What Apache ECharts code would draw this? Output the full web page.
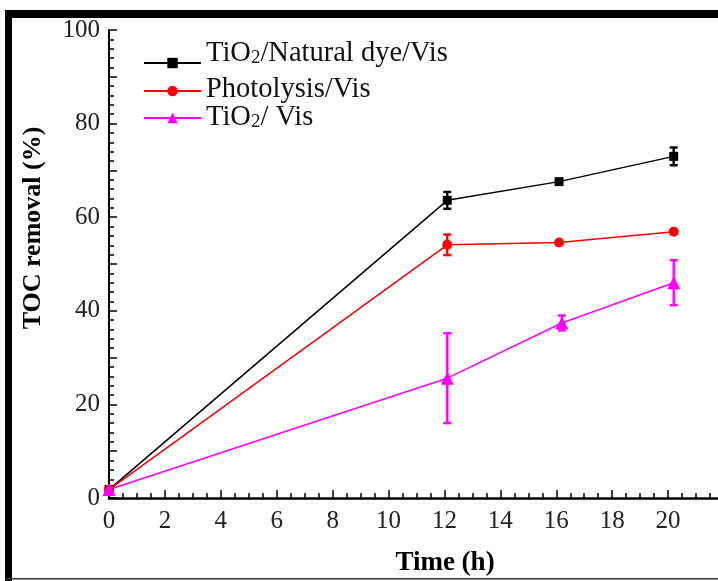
<!DOCTYPE html>
<html>
<head>
<meta charset="utf-8">
<script src="https://cdn.jsdelivr.net/npm/echarts@6/dist/echarts.min.js"></script>
<style>
html,body{margin:0;padding:0;background:#fff;}
#chart{width:718px;height:581px;}
</style>
</head>
<body>
<div id="chart"></div>
<script>
// ---- data ----
const seriesNames = ['TiO2/Natural dye/Vis', 'Photolysis/Vis', 'TiO2/ Vis'];
const xNatural = [0, 12.1, 16.1, 20.2];
const yNatural = [1.8, 63.6, 67.6, 73.0];
const errNatural = [0, 1.8, 0, 1.9];
const xPhoto = [0, 12.1, 16.1, 20.2];
const yPhoto = [1.8, 54.1, 54.6, 56.9];
const errPhoto = [0, 2.2, 0, 0];
const xTiO2 = [0, 12.1, 16.2, 20.2];
const yTiO2 = [1.8, 25.6, 37.4, 46.0];
const errTiO2 = [0, 9.6, 1.6, 4.8];
const xTicks = [0, 2, 4, 6, 8, 10, 12, 14, 16, 18, 20];
const yTicks = [0, 20, 40, 60, 80, 100];

const colors = ['#000000', '#ff0000', '#ff00ff'];
const symbols = ['rect', 'circle', 'triangle'];
const symbolSizes = [9, 10, 13];
const FONT = '"Liberation Serif", "Times New Roman", serif';

function pairs(xs, ys) { return xs.map((x, i) => [x, ys[i]]); }
function errData(xs, ys, es) {
  const out = [];
  xs.forEach((x, i) => { if (es[i] > 0) out.push([x, ys[i] - es[i], ys[i] + es[i]]); });
  return out;
}
function errSeries(data, color) {
  return {
    type: 'custom',
    silent: true,
    z: 3,
    data: data,
    renderItem: function (params, api) {
      const x = api.value(0), lo = api.value(1), hi = api.value(2);
      const p1 = api.coord([x, lo]), p2 = api.coord([x, hi]);
      const w = 4;
      const st = { stroke: color, lineWidth: 2.4 };
      return {
        type: 'group',
        children: [
          { type: 'line', shape: { x1: p1[0], y1: p1[1], x2: p2[0], y2: p2[1] }, style: st },
          { type: 'line', shape: { x1: p1[0] - w, y1: p1[1], x2: p1[0] + w, y2: p1[1] }, style: st },
          { type: 'line', shape: { x1: p2[0] - w, y1: p2[1], x2: p2[0] + w, y2: p2[1] }, style: st }
        ]
      };
    }
  };
}

const lineData = [pairs(xNatural, yNatural), pairs(xPhoto, yPhoto), pairs(xTiO2, yTiO2)];
const errs = [errData(xNatural, yNatural, errNatural), errData(xPhoto, yPhoto, errPhoto), errData(xTiO2, yTiO2, errTiO2)];

const series = [];
seriesNames.forEach((n, i) => {
  series.push({
    name: n,
    type: 'line',
    data: lineData[i],
    symbol: symbols[i],
    symbolSize: symbolSizes[i],
    showAllSymbol: true,
    lineStyle: { color: colors[i], width: 1.5 },
    itemStyle: { color: colors[i] },
    z: 4
  });
  series.push(errSeries(errs[i], colors[i]));
});

const richStyle = {
  n: { fontFamily: FONT, fontSize: 28.5, color: '#111', lineHeight: 28, verticalAlign: 'bottom' },
  s: { fontFamily: FONT, fontSize: 19, color: '#111', lineHeight: 10, verticalAlign: 'bottom' }
};
function legendLabel(name) {
  if (name === 'TiO2/Natural dye/Vis') return '{n|TiO}{s|2}{n|/Natural dye/Vis}';
  if (name === 'TiO2/ Vis') return '{n|TiO}{s|2}{n|/ Vis}';
  return '{n|' + name + '}';
}
const legendTops = [39, 75, 103];
const legendPads = [[0, 0, 18, 0], [0, 0, 2, 0], [0, 0, 0, 0]];
const legends = seriesNames.map((n, i) => ({
  orient: 'vertical',
  left: 143,
  top: legendTops[i],
  padding: 0,
  itemWidth: 57,
  itemHeight: 13,
  itemGap: 0,
  data: [n],
  selectedMode: false,
  formatter: legendLabel,
  textStyle: { fontFamily: FONT, fontSize: 28.5, color: '#111', padding: legendPads[i], rich: richStyle }
}));

const chart = echarts.init(document.getElementById('chart'), null, { renderer: 'canvas' });
chart.setOption({
  animation: false,
  backgroundColor: '#fff',
  grid: { left: 109, top: 30, right: -6, bottom: 83, outerBoundsMode: 'none', containLabel: false },
  legend: legends,
  xAxis: {
    type: 'value',
    min: 0,
    max: 22,
    interval: 2,
    axisLine: { show: true, onZero: false, lineStyle: { color: '#000', width: 2.5 } },
    axisTick: { show: true, inside: true, length: 8, lineStyle: { color: '#000', width: 1.5 } },
    minorTick: { show: true, splitNumber: 4, length: 5, lineStyle: { color: '#000', width: 1.5 } },
    splitLine: { show: false },
    axisLabel: {
      fontFamily: FONT, fontSize: 25, color: '#222', margin: 11,
      formatter: function (v) { return xTicks.indexOf(v) >= 0 ? String(v) : ''; }
    }
  },
  yAxis: {
    type: 'value',
    min: 0,
    max: 100,
    interval: 10,
    axisLine: { show: true, onZero: false, lineStyle: { color: '#000', width: 2 } },
    axisTick: { show: true, inside: true, length: 8, lineStyle: { color: '#000', width: 1.5 } },
    minorTick: { show: true, splitNumber: 5, length: 5, lineStyle: { color: '#000', width: 1.5 } },
    splitLine: { show: false },
    axisLabel: {
      fontFamily: FONT, fontSize: 25, color: '#222', margin: 9,
      formatter: function (v) { return yTicks.indexOf(v) >= 0 ? String(v) : ''; }
    }
  },
  graphic: [
    { type: 'rect', shape: { x: 5, y: 10, width: 713, height: 8 }, style: { fill: '#000' }, z: 100 },
    { type: 'rect', shape: { x: 5, y: 10, width: 7, height: 571 }, style: { fill: '#000' }, z: 100 },
    { type: 'rect', shape: { x: 5, y: 578, width: 713, height: 1.5 }, style: { fill: '#333' }, z: 100 },
    {
      type: 'text', x: 33, y: 228, rotation: Math.PI / 2, z: 100,
      style: { text: 'TOC removal (%)', fontFamily: FONT, fontSize: 26, fontWeight: 'bold', fill: '#000',
               align: 'center', verticalAlign: 'middle', textAlign: 'center', textVerticalAlign: 'middle' }
    },
    {
      type: 'text', x: 445, y: 563, z: 100,
      style: { text: 'Time (h)', fontFamily: FONT, fontSize: 27, fontWeight: 'bold', fill: '#000',
               align: 'center', verticalAlign: 'middle', textAlign: 'center', textVerticalAlign: 'middle' }
    }
  ],
  series: series
});
</script>
</body>
</html>
